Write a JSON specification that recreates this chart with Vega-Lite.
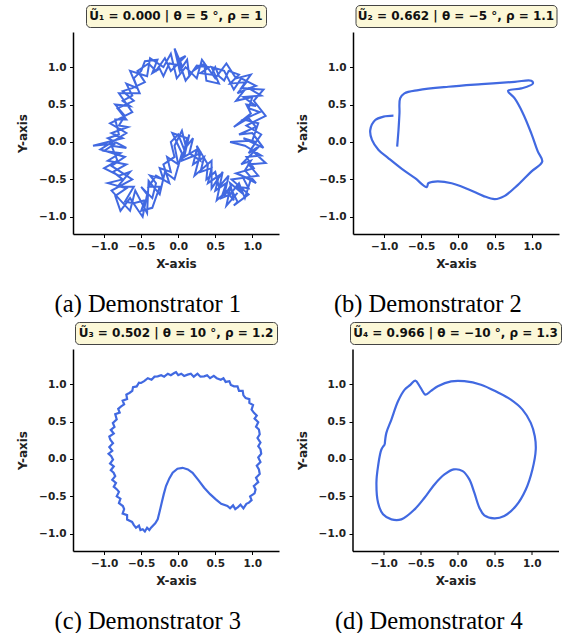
{
  "$schema": "https://vega.github.io/schema/vega-lite/v6.json",
  "padding": {"left": 16, "top": 4, "right": 0, "bottom": 0},
  "background": "white",
  "spacing": 5,
  "config": {
    "view": {"stroke": null},
    "axis": {"grid": false, "domainColor": "#000000", "domainWidth": 1.5, "tickColor": "#000000", "tickSize": 3.5, "tickWidth": 1, "labelFont": "DejaVu Sans", "labelFontWeight": "bold", "labelFontSize": 10.5, "labelColor": "#222222", "titleFont": "DejaVu Sans", "titleFontWeight": "bold", "titleFontSize": 12, "titleColor": "#222222", "labelPadding": 3.5},
    "axisX": {"titlePadding": 7},
    "axisY": {"titlePadding": 9},
    "title": {"font": "Liberation Serif", "fontSize": 24.5, "fontWeight": "normal", "color": "#000000", "orient": "bottom", "anchor": "middle", "offset": 23}
  },
  "datasets": {
    "a": [
      {"x":0.62,"y":-0.62},{"x":0.75,"y":-0.78},{"x":0.7,"y":-0.55},{"x":0.88,"y":-0.7},{"x":0.8,"y":-0.6},{"x":0.95,"y":-0.62},{"x":0.86,"y":-0.45},{"x":1.05,"y":-0.55},{"x":0.9,"y":-0.38},{"x":0.98,"y":-0.25},{"x":0.85,"y":-0.3},{"x":1.1,"y":-0.05},{"x":0.95,"y":-0.15},{"x":1.05,"y":0.0},{"x":0.88,"y":0.05},{"x":1.15,"y":-0.08},{"x":1.0,"y":0.12},{"x":0.82,"y":0.1},{"x":1.05,"y":0.2},{"x":0.95,"y":0.32},{"x":0.75,"y":0.2},{"x":0.98,"y":0.38},{"x":0.92,"y":0.5},{"x":1.05,"y":0.48},{"x":0.88,"y":0.6},{"x":1.12,"y":0.62},{"x":0.95,"y":0.72},{"x":0.8,"y":0.65},{"x":0.92,"y":0.8},{"x":0.7,"y":0.78},{"x":0.82,"y":0.9},{"x":0.68,"y":0.95},{"x":0.62,"y":0.82},{"x":0.55,"y":0.88},{"x":0.5,"y":1.0},{"x":0.45,"y":0.9},{"x":0.3,"y":0.92},{"x":0.42,"y":1.0},{"x":0.25,"y":1.02},{"x":0.15,"y":0.88},{"x":0.12,"y":1.1},{"x":0.02,"y":0.95},{"x":-0.05,"y":1.25},{"x":0.05,"y":1.02},{"x":-0.12,"y":1.05},{"x":-0.2,"y":0.88},{"x":-0.25,"y":0.98},{"x":-0.35,"y":0.92},{"x":-0.28,"y":1.1},{"x":-0.45,"y":1.08},{"x":-0.5,"y":0.95},{"x":-0.6,"y":0.85},{"x":-0.55,"y":0.72},{"x":-0.7,"y":0.78},{"x":-0.62,"y":0.62},{"x":-0.75,"y":0.55},{"x":-0.65,"y":0.48},{"x":-0.85,"y":0.5},{"x":-0.72,"y":0.35},{"x":-0.8,"y":0.22},{"x":-0.68,"y":0.2},{"x":-0.9,"y":0.12},{"x":-0.75,"y":0.05},{"x":-1.15,"y":-0.05},{"x":-0.85,"y":-0.02},{"x":-1.0,"y":-0.12},{"x":-0.78,"y":-0.15},{"x":-0.95,"y":-0.25},{"x":-0.7,"y":-0.3},{"x":-0.88,"y":-0.4},{"x":-0.75,"y":-0.5},{"x":-0.95,"y":-0.55},{"x":-0.7,"y":-0.62},{"x":-0.85,"y":-0.72},{"x":-0.78,"y":-0.92},{"x":-0.65,"y":-0.75},{"x":-0.55,"y":-0.9},{"x":-0.48,"y":-1.0},{"x":-0.42,"y":-0.7},{"x":-0.5,"y":-0.6},{"x":-0.35,"y":-0.75},{"x":-0.3,"y":-0.55},{"x":-0.38,"y":-0.45},{"x":-0.2,"y":-0.5},{"x":-0.25,"y":-0.35},{"x":-0.1,"y":-0.4},{"x":-0.15,"y":-0.2},{"x":0.0,"y":-0.3},{"x":-0.05,"y":-0.05},{"x":0.05,"y":0.15},{"x":0.1,"y":-0.05},{"x":0.15,"y":0.1},{"x":0.08,"y":-0.2},{"x":0.25,"y":-0.1},{"x":0.2,"y":-0.3},{"x":0.35,"y":-0.2},{"x":0.3,"y":-0.4},{"x":0.45,"y":-0.35},{"x":0.4,"y":-0.55},{"x":0.55,"y":-0.45},{"x":0.5,"y":-0.65},{"x":0.65,"y":-0.55},{"x":0.58,"y":-0.75},
      {"x":0.7,"y":-0.7},{"x":0.82,"y":-0.55},{"x":0.9,"y":-0.75},{"x":0.98,"y":-0.5},{"x":0.78,"y":-0.42},{"x":1.02,"y":-0.35},{"x":0.92,"y":-0.2},{"x":1.12,"y":-0.18},{"x":0.9,"y":-0.05},{"x":0.7,"y":0.0},{"x":1.0,"y":0.02},{"x":1.08,"y":0.25},{"x":0.88,"y":0.3},{"x":1.1,"y":0.4},{"x":0.95,"y":0.45},{"x":1.0,"y":0.6},{"x":0.78,"y":0.55},{"x":0.9,"y":0.7},{"x":1.05,"y":0.75},{"x":0.85,"y":0.85},{"x":0.75,"y":0.7},{"x":0.62,"y":0.95},{"x":0.45,"y":1.0},{"x":0.55,"y":0.78},{"x":0.38,"y":0.82},{"x":0.35,"y":1.05},{"x":0.2,"y":0.95},{"x":0.1,"y":0.82},{"x":0.0,"y":1.1},{"x":0.1,"y":1.15},{"x":-0.1,"y":0.95},{"x":-0.18,"y":1.12},{"x":-0.3,"y":0.95},{"x":-0.4,"y":1.05},{"x":-0.55,"y":0.95},{"x":-0.45,"y":0.8},{"x":-0.62,"y":0.72},{"x":-0.75,"y":0.68},{"x":-0.6,"y":0.55},{"x":-0.82,"y":0.45},{"x":-0.7,"y":0.3},{"x":-0.85,"y":0.3},{"x":-0.8,"y":0.1},{"x":-0.95,"y":0.05},{"x":-0.7,"y":-0.08},{"x":-0.9,"y":-0.05},{"x":-0.82,"y":-0.25},{"x":-1.0,"y":-0.35},{"x":-0.8,"y":-0.45},{"x":-0.65,"y":-0.4},{"x":-0.82,"y":-0.6},{"x":-0.6,"y":-0.6},{"x":-0.72,"y":-0.8},{"x":-0.6,"y":-0.82},{"x":-0.45,"y":-0.78},{"x":-0.5,"y":-0.92},{"x":-0.35,"y":-0.88},{"x":-0.25,"y":-0.6},{"x":-0.4,"y":-0.6},{"x":-0.3,"y":-0.45},{"x":-0.12,"y":-0.55},{"x":-0.2,"y":-0.3},{"x":-0.05,"y":-0.2},{"x":-0.1,"y":0.0},{"x":0.0,"y":0.1},{"x":0.08,"y":-0.1},{"x":0.2,"y":0.05},{"x":0.15,"y":-0.15},{"x":0.3,"y":-0.25},{"x":0.25,"y":-0.05},{"x":0.4,"y":-0.3},{"x":0.38,"y":-0.5},{"x":0.5,"y":-0.4},{"x":0.55,"y":-0.6},{"x":0.68,"y":-0.45},{"x":0.62,"y":-0.72},{"x":0.7,"y":-0.6},{"x":0.8,"y":-0.8},
      {"x":0.75,"y":-0.85},{"x":0.95,"y":-0.7},{"x":0.72,"y":-0.5},{"x":1.08,"y":-0.45},{"x":0.95,"y":-0.3},{"x":1.18,"y":-0.28},{"x":0.98,"y":-0.1},{"x":1.12,"y":0.1},{"x":0.92,"y":0.22},{"x":1.18,"y":0.35},{"x":1.02,"y":0.55},{"x":1.15,"y":0.7},{"x":0.85,"y":0.72},{"x":0.98,"y":0.9},{"x":0.78,"y":0.85},{"x":0.65,"y":1.05},{"x":0.5,"y":0.85},{"x":0.32,"y":1.1},{"x":0.25,"y":0.85},{"x":0.1,"y":1.0},{"x":-0.02,"y":0.85},{"x":-0.1,"y":1.18},{"x":-0.2,"y":1.0},{"x":-0.38,"y":1.12},{"x":-0.42,"y":0.88},{"x":-0.65,"y":0.95},{"x":-0.52,"y":0.65},{"x":-0.8,"y":0.65},{"x":-0.62,"y":0.4},{"x":-0.92,"y":0.25},{"x":-0.7,"y":0.12},{"x":-1.05,"y":-0.1},{"x":-0.72,"y":-0.2},{"x":-0.9,"y":-0.32},{"x":-0.62,"y":-0.5},{"x":-0.9,"y":-0.65},{"x":-0.65,"y":-0.92},{"x":-0.58,"y":-0.65},{"x":-0.42,"y":-0.95},{"x":-0.4,"y":-0.52},{"x":-0.25,"y":-0.7},{"x":-0.18,"y":-0.4},{"x":-0.05,"y":-0.5},{"x":0.05,"y":-0.15},{"x":-0.08,"y":0.12},{"x":0.12,"y":0.05},{"x":0.05,"y":-0.25},{"x":0.3,"y":-0.15},{"x":0.22,"y":-0.45},{"x":0.45,"y":-0.25},{"x":0.45,"y":-0.62},{"x":0.6,"y":-0.4},{"x":0.52,"y":-0.78},{"x":0.7,"y":-0.62},{"x":0.65,"y":-0.85},{"x":0.8,"y":-0.68}
    ],
    "b": [
      {"x":-0.874,"y":0.351},{"x":-1.008,"y":0.338},{"x":-1.12,"y":0.293},{"x":-1.187,"y":0.16},{"x":-1.164,"y":0.027},{"x":-1.075,"y":-0.107},{"x":-0.941,"y":-0.218},{"x":-0.761,"y":-0.36},{"x":-0.582,"y":-0.484},{"x":-0.425,"y":-0.604},{"x":-0.403,"y":-0.551},{"x":-0.313,"y":-0.529},{"x":-0.089,"y":-0.551},{"x":0.134,"y":-0.631},{"x":0.336,"y":-0.72},{"x":0.493,"y":-0.764},{"x":0.628,"y":-0.72},{"x":0.806,"y":-0.573},{"x":0.986,"y":-0.396},{"x":1.134,"y":-0.262},{"x":1.075,"y":-0.129},{"x":0.986,"y":0.116},{"x":0.874,"y":0.382},{"x":0.762,"y":0.582},{"x":0.672,"y":0.684},{"x":0.852,"y":0.716},{"x":1.008,"y":0.782},{"x":0.986,"y":0.818},{"x":0.762,"y":0.804},{"x":0.314,"y":0.773},{"x":-0.134,"y":0.738},{"x":-0.538,"y":0.693},{"x":-0.726,"y":0.649},{"x":-0.784,"y":0.582},{"x":-0.793,"y":0.382},{"x":-0.806,"y":0.16},{"x":-0.824,"y":-0.062}
    ],
    "c": [
      {"x":0.798,"y":-0.651},{"x":0.84,"y":-0.61},{"x":0.88,"y":-0.66},{"x":0.92,"y":-0.6},{"x":0.954,"y":-0.584},{"x":0.99,"y":-0.55},{"x":0.97,"y":-0.5},{"x":1.03,"y":-0.46},{"x":1.044,"y":-0.407},{"x":1.02,"y":-0.36},{"x":1.08,"y":-0.31},{"x":1.05,"y":-0.25},{"x":1.1,"y":-0.2},{"x":1.089,"y":-0.14},{"x":1.06,"y":-0.09},{"x":1.11,"y":-0.04},{"x":1.08,"y":0.02},{"x":1.12,"y":0.07},{"x":1.111,"y":0.127},{"x":1.08,"y":0.17},{"x":1.11,"y":0.22},{"x":1.07,"y":0.28},{"x":1.1,"y":0.33},{"x":1.089,"y":0.393},{"x":1.05,"y":0.43},{"x":1.08,"y":0.49},{"x":1.03,"y":0.54},{"x":1.06,"y":0.58},{"x":1.022,"y":0.616},{"x":0.99,"y":0.66},{"x":1.01,"y":0.72},{"x":0.96,"y":0.75},{"x":0.96,"y":0.8},{"x":0.91,"y":0.816},{"x":0.88,"y":0.85},{"x":0.87,"y":0.91},{"x":0.82,"y":0.91},{"x":0.8,"y":0.97},{"x":0.753,"y":0.971},{"x":0.71,"y":0.99},{"x":0.69,"y":1.04},{"x":0.64,"y":1.03},{"x":0.61,"y":1.08},{"x":0.574,"y":1.06},{"x":0.52,"y":1.08},{"x":0.48,"y":1.11},{"x":0.43,"y":1.08},{"x":0.39,"y":1.12},{"x":0.35,"y":1.104},{"x":0.3,"y":1.1},{"x":0.26,"y":1.14},{"x":0.21,"y":1.1},{"x":0.17,"y":1.14},{"x":0.126,"y":1.127},{"x":0.08,"y":1.11},{"x":0.04,"y":1.14},{"x":0.0,"y":1.12},{"x":-0.03,"y":1.16},{"x":-0.054,"y":1.149},{"x":-0.1,"y":1.12},{"x":-0.14,"y":1.14},{"x":-0.19,"y":1.1},{"x":-0.23,"y":1.12},{"x":-0.277,"y":1.104},{"x":-0.32,"y":1.1},{"x":-0.36,"y":1.06},{"x":-0.41,"y":1.08},{"x":-0.46,"y":1.04},{"x":-0.501,"y":1.016},{"x":-0.53,"y":1.02},{"x":-0.56,"y":0.97},{"x":-0.61,"y":0.96},{"x":-0.62,"y":0.91},{"x":-0.659,"y":0.882},{"x":-0.7,"y":0.86},{"x":-0.69,"y":0.8},{"x":-0.75,"y":0.78},{"x":-0.73,"y":0.73},{"x":-0.77,"y":0.704},{"x":-0.81,"y":0.67},{"x":-0.79,"y":0.62},{"x":-0.85,"y":0.6},{"x":-0.83,"y":0.53},{"x":-0.882,"y":0.482},{"x":-0.86,"y":0.43},{"x":-0.91,"y":0.39},{"x":-0.87,"y":0.34},{"x":-0.93,"y":0.3},{"x":-0.917,"y":0.26},{"x":-0.88,"y":0.21},{"x":-0.93,"y":0.16},{"x":-0.89,"y":0.11},{"x":-0.94,"y":0.07},{"x":-0.904,"y":0.038},{"x":-0.88,"y":-0.01},{"x":-0.92,"y":-0.06},{"x":-0.87,"y":-0.1},{"x":-0.91,"y":-0.15},{"x":-0.872,"y":-0.184},{"x":-0.85,"y":-0.23},{"x":-0.89,"y":-0.28},{"x":-0.84,"y":-0.32},{"x":-0.87,"y":-0.37},{"x":-0.827,"y":-0.407},{"x":-0.8,"y":-0.44},{"x":-0.83,"y":-0.5},{"x":-0.78,"y":-0.53},{"x":-0.8,"y":-0.59},{"x":-0.747,"y":-0.629},{"x":-0.73,"y":-0.67},{"x":-0.75,"y":-0.73},{"x":-0.69,"y":-0.75},{"x":-0.69,"y":-0.81},{"x":-0.623,"y":-0.841},{"x":-0.6,"y":-0.88},{"x":-0.57,"y":-0.92},{"x":-0.53,"y":-0.89},{"x":-0.51,"y":-0.95},{"x":-0.479,"y":-0.94},{"x":-0.45,"y":-0.97},{"x":-0.42,"y":-0.92},{"x":-0.39,"y":-0.95},{"x":-0.367,"y":-0.918},{"x":-0.31,"y":-0.86},{"x":-0.277,"y":-0.807},{"x":-0.25,"y":-0.7},{"x":-0.223,"y":-0.584},{"x":-0.195,"y":-0.47},{"x":-0.165,"y":-0.362},{"x":-0.12,"y":-0.26},{"x":-0.075,"y":-0.184},{"x":-0.01,"y":-0.13},{"x":0.059,"y":-0.118},{"x":0.13,"y":-0.14},{"x":0.194,"y":-0.184},{"x":0.27,"y":-0.28},{"x":0.35,"y":-0.384},{"x":0.43,"y":-0.47},{"x":0.507,"y":-0.54},{"x":0.58,"y":-0.6},{"x":0.664,"y":-0.629},{"x":0.7,"y":-0.66},{"x":0.74,"y":-0.62},{"x":0.77,"y":-0.67},{"x":0.798,"y":-0.651}
    ],
    "d": [
      {"x":-0.985,"y":0.193},{"x":-0.963,"y":0.349},{"x":-0.895,"y":0.527},{"x":-0.806,"y":0.771},{"x":-0.716,"y":0.927},{"x":-0.64,"y":0.99},{"x":-0.573,"y":1.047},{"x":-0.5,"y":0.95},{"x":-0.434,"y":0.86},{"x":-0.36,"y":0.91},{"x":-0.269,"y":0.971},{"x":-0.089,"y":1.037},{"x":0.09,"y":1.04},{"x":0.314,"y":0.993},{"x":0.538,"y":0.891},{"x":0.717,"y":0.793},{"x":0.874,"y":0.66},{"x":0.986,"y":0.482},{"x":1.04,"y":0.304},{"x":1.053,"y":0.127},{"x":1.008,"y":-0.14},{"x":0.919,"y":-0.407},{"x":0.785,"y":-0.629},{"x":0.628,"y":-0.762},{"x":0.493,"y":-0.793},{"x":0.359,"y":-0.753},{"x":0.292,"y":-0.651},{"x":0.224,"y":-0.451},{"x":0.157,"y":-0.273},{"x":0.067,"y":-0.162},{"x":-0.054,"y":-0.14},{"x":-0.179,"y":-0.207},{"x":-0.313,"y":-0.34},{"x":-0.448,"y":-0.518},{"x":-0.582,"y":-0.673},{"x":-0.761,"y":-0.807},{"x":-0.895,"y":-0.807},{"x":-1.008,"y":-0.74},{"x":-1.075,"y":-0.584},{"x":-1.097,"y":-0.317},{"x":-1.075,"y":-0.096},{"x":-1.03,"y":0.127},{"x":-0.985,"y":0.193}
    ]
  },
  "vconcat": [
    {
      "spacing": 17,
      "hconcat": [
        {
          "title": {"text": "(a) Demonstrator 1"},
          "spacing": 5, "bounds": "flush", "center": true,
          "vconcat": [
            {"width": 180, "height": 22, "view": {"fill": "#fcf8d8", "stroke": "#444444", "strokeWidth": 1, "cornerRadius": 4},
             "data": {"values": [{"t": "Ũ₁ = 0.000 | θ = 5 °, ρ = 1"}]},
             "mark": {"type": "text", "font": "DejaVu Sans", "fontWeight": "bold", "fontSize": 12, "color": "#111111"},
             "encoding": {"text": {"field": "t"}}},
            {"width": 206, "height": 202, "data": {"name": "a"},
             "mark": {"type": "line", "color": "#4169e1", "strokeWidth": 2},
             "encoding": {
               "x": {"field": "x", "type": "quantitative", "scale": {"domain": [-1.42, 1.36], "nice": false, "zero": false}, "axis": {"title": "X-axis", "values": [-1, -0.5, 0, 0.5, 1], "format": ".1f"}},
               "y": {"field": "y", "type": "quantitative", "scale": {"domain": [-1.23, 1.47], "nice": false, "zero": false}, "axis": {"title": "Y-axis", "values": [-1, -0.5, 0, 0.5, 1], "format": ".1f"}},
               "order": {"value": null}}}
          ]
        },
        {
          "title": {"text": "(b) Demonstrator 2"},
          "spacing": 5, "bounds": "flush", "center": true,
          "vconcat": [
            {"width": 201, "height": 22, "view": {"fill": "#fcf8d8", "stroke": "#444444", "strokeWidth": 1, "cornerRadius": 4},
             "data": {"values": [{"t": "Ũ₂ = 0.662 | θ = −5 °, ρ = 1.1"}]},
             "mark": {"type": "text", "font": "DejaVu Sans", "fontWeight": "bold", "fontSize": 12, "color": "#111111"},
             "encoding": {"text": {"field": "t"}}},
            {"width": 206, "height": 202, "data": {"name": "b"},
             "mark": {"type": "line", "color": "#4169e1", "strokeWidth": 2.2, "interpolate": "catmull-rom"},
             "encoding": {
               "x": {"field": "x", "type": "quantitative", "scale": {"domain": [-1.42, 1.36], "nice": false, "zero": false}, "axis": {"title": "X-axis", "values": [-1, -0.5, 0, 0.5, 1], "format": ".1f"}},
               "y": {"field": "y", "type": "quantitative", "scale": {"domain": [-1.23, 1.47], "nice": false, "zero": false}, "axis": {"title": "Y-axis", "values": [-1, -0.5, 0, 0.5, 1], "format": ".1f"}},
               "order": {"value": null}}}
          ]
        }
      ]
    },
    {
      "spacing": 17,
      "hconcat": [
        {
          "title": {"text": "(c) Demonstrator 3"},
          "spacing": 5, "bounds": "flush", "center": true,
          "vconcat": [
            {"width": 202, "height": 22, "view": {"fill": "#fcf8d8", "stroke": "#444444", "strokeWidth": 1, "cornerRadius": 4},
             "data": {"values": [{"t": "Ũ₃ = 0.502 | θ = 10 °, ρ = 1.2"}]},
             "mark": {"type": "text", "font": "DejaVu Sans", "fontWeight": "bold", "fontSize": 12, "color": "#111111"},
             "encoding": {"text": {"field": "t"}}},
            {"width": 206, "height": 202, "data": {"name": "c"},
             "mark": {"type": "line", "color": "#4169e1", "strokeWidth": 2.2},
             "encoding": {
               "x": {"field": "x", "type": "quantitative", "scale": {"domain": [-1.42, 1.36], "nice": false, "zero": false}, "axis": {"title": "X-axis", "values": [-1, -0.5, 0, 0.5, 1], "format": ".1f"}},
               "y": {"field": "y", "type": "quantitative", "scale": {"domain": [-1.23, 1.47], "nice": false, "zero": false}, "axis": {"title": "Y-axis", "values": [-1, -0.5, 0, 0.5, 1], "format": ".1f"}},
               "order": {"value": null}}}
          ]
        },
        {
          "title": {"text": "(d) Demonstrator 4"},
          "spacing": 5, "bounds": "flush", "center": true,
          "vconcat": [
            {"width": 211, "height": 22, "view": {"fill": "#fcf8d8", "stroke": "#444444", "strokeWidth": 1, "cornerRadius": 4},
             "data": {"values": [{"t": "Ũ₄ = 0.966 | θ = −10 °, ρ = 1.3"}]},
             "mark": {"type": "text", "font": "DejaVu Sans", "fontWeight": "bold", "fontSize": 12, "color": "#111111"},
             "encoding": {"text": {"field": "t"}}},
            {"width": 206, "height": 202, "data": {"name": "d"},
             "mark": {"type": "line", "color": "#4169e1", "strokeWidth": 2.2, "interpolate": "catmull-rom"},
             "encoding": {
               "x": {"field": "x", "type": "quantitative", "scale": {"domain": [-1.42, 1.36], "nice": false, "zero": false}, "axis": {"title": "X-axis", "values": [-1, -0.5, 0, 0.5, 1], "format": ".1f"}},
               "y": {"field": "y", "type": "quantitative", "scale": {"domain": [-1.23, 1.47], "nice": false, "zero": false}, "axis": {"title": "Y-axis", "values": [-1, -0.5, 0, 0.5, 1], "format": ".1f"}},
               "order": {"value": null}}}
          ]
        }
      ]
    }
  ]
}
